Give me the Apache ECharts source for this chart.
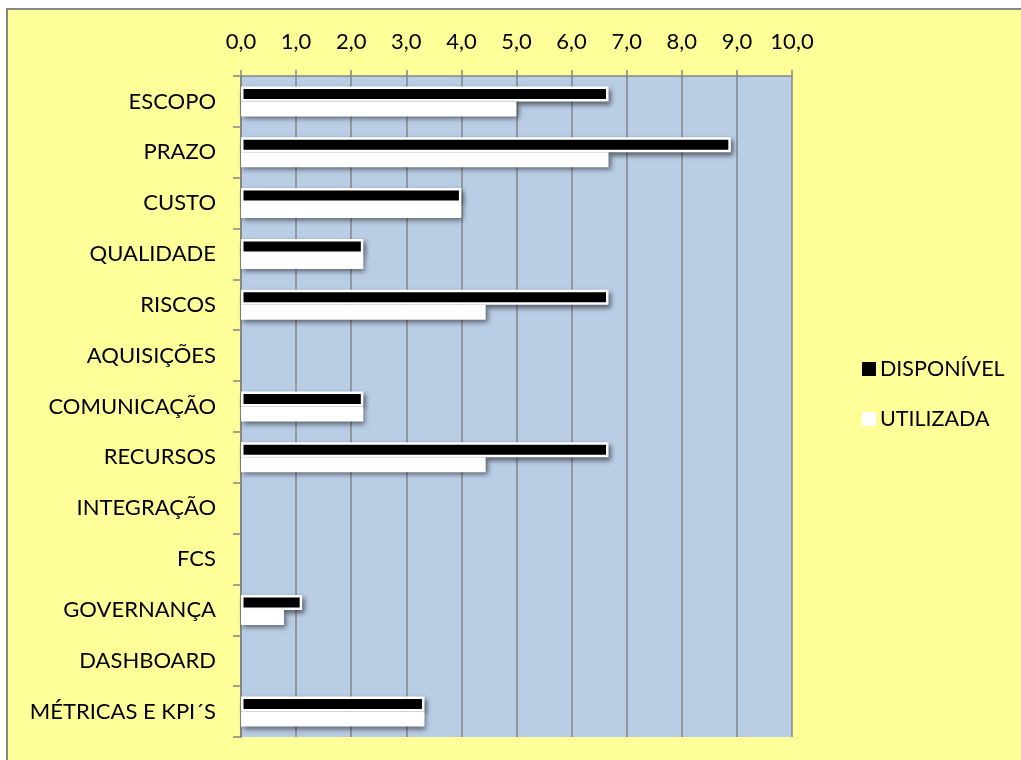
<!DOCTYPE html>
<html>
<head>
<meta charset="utf-8">
<script src="https://cdn.jsdelivr.net/npm/echarts@6/dist/echarts.min.js"></script>
<style>
html,body{margin:0;padding:0;background:#fff;}
#c{width:1021px;height:760px;}
</style>
</head>
<body>
<div id="c"></div>
<script>
const categories = ['ESCOPO','PRAZO','CUSTO','QUALIDADE','RISCOS','AQUISIÇÕES','COMUNICAÇÃO','RECURSOS','INTEGRAÇÃO','FCS','GOVERNANÇA','DASHBOARD','MÉTRICAS E KPI´S'];
const disponivel = [6.67, 8.89, 4.0, 2.22, 6.67, 0, 2.22, 6.67, 0, 0, 1.11, 0, 3.33];
const utilizada  = [5.0, 6.67, 4.0, 2.22, 4.44, 0, 2.22, 4.44, 0, 0, 0.78, 0, 3.33];
const xTicks = [0,1,2,3,4,5,6,7,8,9,10];

const FONT = 'Lato';
const chart = echarts.init(document.getElementById('c'), null, {renderer:'canvas'});
const shadow = {
  shadowBlur: 5,
  shadowColor: 'rgba(0,0,0,0.5)',
  shadowOffsetX: 2,
  shadowOffsetY: 3
};
chart.setOption({
  backgroundColor: '#ffffff',
  animation: false,
  graphic: [{
    type: 'rect', z: -10, silent: true,
    shape: {x: 7, y: 9, width: 1100, height: 900},
    style: {fill: '#FFFF99', stroke: '#868686', lineWidth: 2}
  }],
  grid: {
    left: 241, right: 229, top: 76, bottom: 23,
    show: true, backgroundColor: '#B9CDE5', borderWidth: 0
  },
  legend: {
    orient: 'vertical',
    left: 857, top: 353,
    itemWidth: 14, itemHeight: 14,
    itemGap: 28,
    icon: 'rect',
    textStyle: {fontFamily: FONT, fontSize: 21.5, color: '#000', lineHeight: 22, padding: [0,0,0,-1]},
    data: [
      {name: 'DISPONÍVEL', itemStyle: {color: '#000', borderWidth: 0, shadowBlur: 0, shadowOffsetX: 0, shadowOffsetY: 0}},
      {name: 'UTILIZADA', itemStyle: {color: '#fff', borderWidth: 0, shadowBlur: 0, shadowOffsetX: 0, shadowOffsetY: 0}}
    ]
  },
  xAxis: {
    type: 'value', position: 'top',
    min: 0, max: 10, interval: 1,
    axisLine: {show: true, lineStyle: {color: '#868686', width: 1.5}},
    axisTick: {show: true, length: 6, lineStyle: {color: '#868686', width: 1.5}},
    splitLine: {show: true, lineStyle: {color: '#868686', width: 1.5}},
    axisLabel: {
      fontFamily: FONT, fontSize: 22, color: '#000', margin: 23,
      formatter: v => xTicks.includes(v) ? v.toFixed(1).replace('.', ',') : ''
    }
  },
  yAxis: {
    type: 'category', inverse: true,
    data: categories,
    axisLine: {show: true, lineStyle: {color: '#868686', width: 2}},
    axisTick: {show: true, length: 8, lineStyle: {color: '#868686', width: 1.5}},
    axisLabel: {fontFamily: FONT, fontSize: 22, color: '#000', margin: 25}
  },
  series: [
    {
      name: 'DISPONÍVEL', type: 'bar', barWidth: 15, barGap: '0%',
      itemStyle: Object.assign({color: '#000000', borderColor: '#ffffff', borderWidth: 2.5}, shadow),
      data: disponivel.map(v => v === 0 ? null : v)
    },
    {
      name: 'UTILIZADA', type: 'bar', barWidth: 15, barGap: '0%',
      itemStyle: Object.assign({color: '#ffffff', borderWidth: 0}, shadow),
      data: utilizada.map(v => v === 0 ? null : v)
    }
  ]
});
</script>
</body>
</html>
